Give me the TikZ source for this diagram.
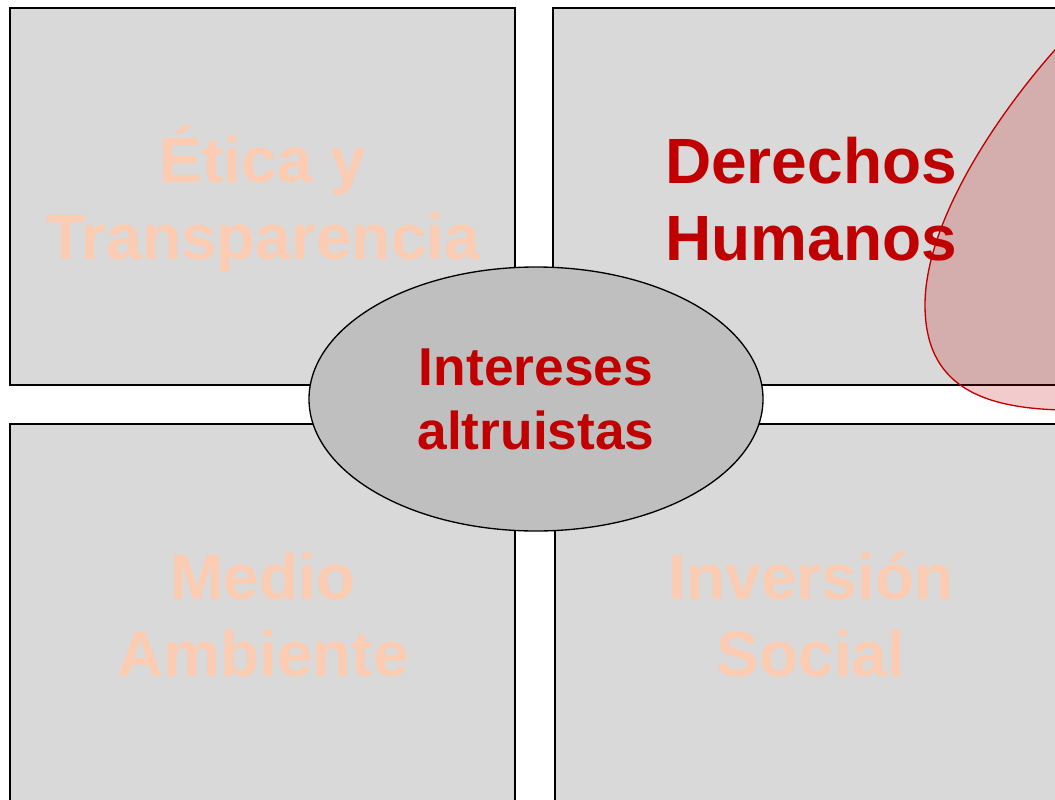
\documentclass[tikz,border=0pt]{standalone}
\usepackage{fontspec}
\setmainfont{Liberation Sans}
\usepackage{tikz}
\usetikzlibrary{shapes.geometric, positioning}
\definecolor{boxgray}{RGB}{217,217,217}
\definecolor{ovalgray}{RGB}{191,191,191}
\definecolor{darkred}{RGB}{192,0,0}
\definecolor{peach}{RGB}{252,204,178}
\tikzstyle{panel} = [rectangle, draw=black, line width=1.3pt, fill=boxgray]
\tikzstyle{faded} = [text=peach, font=\bfseries\fontsize{48}{58}\selectfont, align=center]
\tikzstyle{active} = [text=darkred, font=\bfseries\fontsize{48}{58}\selectfont, align=center]
\tikzstyle{core} = [ellipse, draw=black, line width=1pt, fill=ovalgray, minimum width=340.5pt, minimum height=198pt, text=darkred, font=\bfseries\fontsize{40}{48}\selectfont, align=center]

\begin{document}
\begin{tikzpicture}[x=0.75pt, y=-0.75pt]
  \useasboundingbox (0,0) rectangle (1055,799);
  % four quadrants
  \draw[panel] (10,8) rectangle (515,385);
  \draw[panel] (553,8) rectangle (1058,385);
  \draw[panel] (10,424) rectangle (515,830);
  \draw[panel] (555,424) rectangle (1060,830);
  % highlight blob
  \draw[draw=darkred, line width=1pt, fill=darkred, fill opacity=0.2]
    (1062,42) .. controls (1000,110) and (925,220) .. (925,305)
    .. controls (925,385) and (980,408) .. (1062,410) -- (1100,410) -- (1100,42) -- cycle;

  \node (etica) [faded] at (263,199) {Ética y\\Transparencia};
  \node (derechos) [active] at (811,199) {Derechos\\Humanos};
  \node (medio) [faded] at (263,615) {Medio\\Ambiente};
  \node (inversion) [faded] at (811,615) {Inversión\\Social};
  \node (intereses) [core] at (536,399) {Intereses\\altruistas};
\end{tikzpicture}
\end{document}
